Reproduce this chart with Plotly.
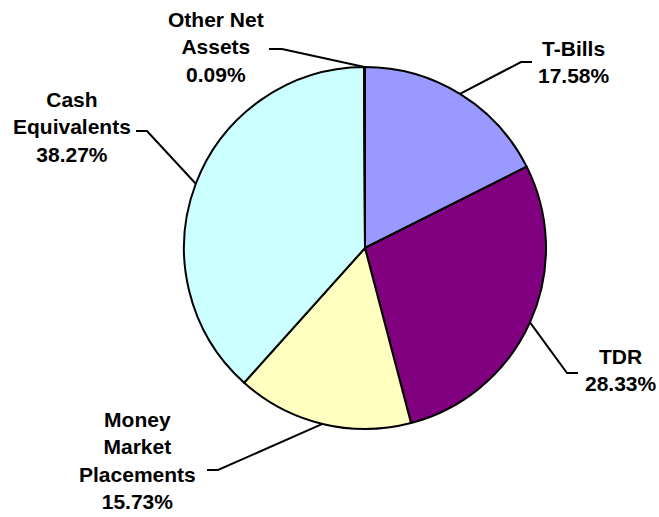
import math
import plotly.graph_objects as go

# ---- data ----
categories = ["T-Bills", "TDR", "Money Market Placements", "Cash Equivalents", "Other Net Assets"]
label_lines = ["T-Bills", "TDR", "Money<br>Market<br>Placements", "Cash<br>Equivalents", "Other Net<br>Assets"]
values = [17.58, 28.33, 15.73, 38.27, 0.09]
colors = ["#9999FF", "#800080", "#FFFFC0", "#CCFFFF", "#FFFFFF"]

# ---- layout constants (pixels) ----
W, H = 659, 517
CX, CY, R = 365, 248, 181
# per-label: elbow point, end of horizontal tick, text centre
label_pos = [
    dict(elbow=(521, 62), end=(532, 62), text=(574, 62)),
    dict(elbow=(567, 373), end=(578, 373), text=(621, 370)),
    dict(elbow=(218, 470), end=(207, 470), text=(137, 460)),
    dict(elbow=(147, 131), end=(136, 131), text=(72, 127)),
    dict(elbow=(282, 49), end=(269, 49), text=(216, 47)),
]

def px(x):
    return x / W

def py(y):
    return 1 - y / H

fig = go.Figure(go.Pie(
    labels=categories,
    values=values,
    sort=False,
    direction="clockwise",
    rotation=0,
    marker=dict(colors=colors, line=dict(color="black", width=2)),
    textinfo="none",
    hoverinfo="label+percent",
    domain=dict(x=[px(CX - R), px(CX + R)], y=[py(CY + R), py(CY - R)]),
    showlegend=False,
))

total = sum(values)
cum = 0.0
shapes = []
annotations = []
for i, v in enumerate(values):
    mid = (cum + v / 2) / total * 2 * math.pi
    cum += v
    ex = CX + R * math.sin(mid)
    ey = CY - R * math.cos(mid)
    lp = label_pos[i]
    (bx, by), (tx, ty), (cx, cy) = lp["elbow"], lp["end"], lp["text"]
    path = f"M {px(ex)},{py(ey)} L {px(bx)},{py(by)} L {px(tx)},{py(ty)}"
    shapes.append(dict(type="path", path=path, xref="paper", yref="paper",
                       line=dict(color="black", width=2)))
    annotations.append(dict(
        x=px(cx), y=py(cy), xref="paper", yref="paper",
        text=f"<b>{label_lines[i]}<br>{v:.2f}%</b>",
        showarrow=False, xanchor="center", yanchor="middle", align="center",
        font=dict(family="Liberation Sans, Arial, sans-serif", size=21, color="black"),
    ))

fig.update_layout(
    width=W, height=H,
    margin=dict(l=0, r=0, t=0, b=0),
    paper_bgcolor="white",
    plot_bgcolor="white",
    shapes=shapes,
    annotations=annotations,
)

fig.write_html("out.html")
